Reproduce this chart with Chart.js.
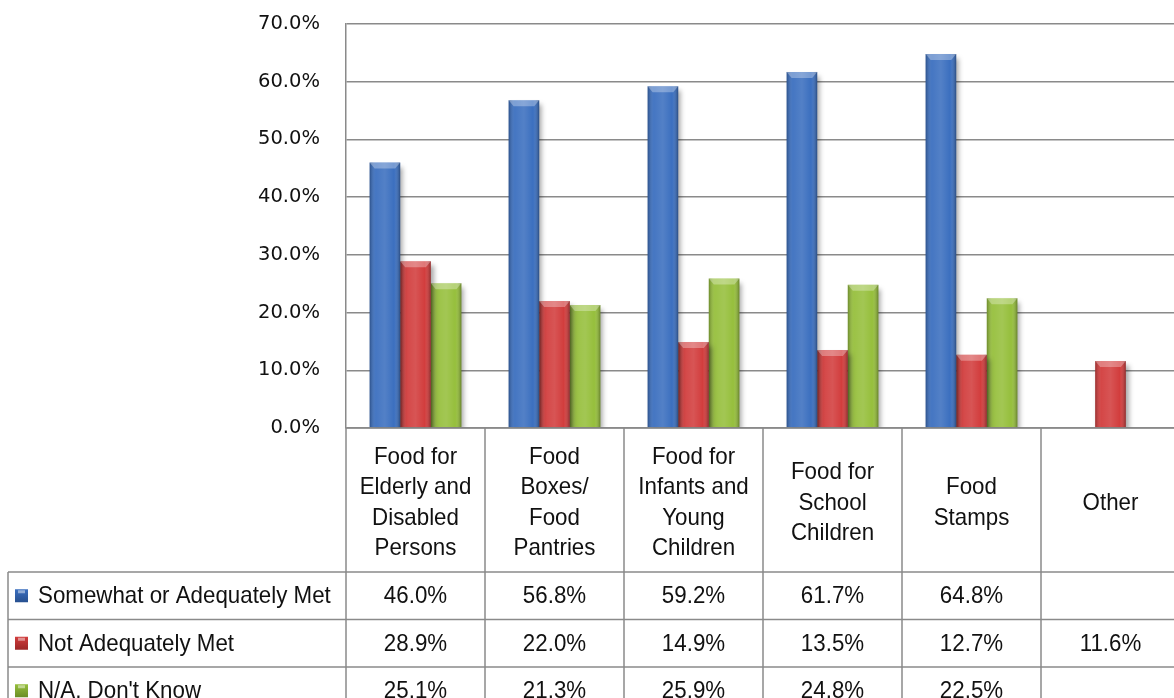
<!DOCTYPE html>
<html>
<head>
<meta charset="utf-8">
<script src="https://cdn.jsdelivr.net/npm/chart.js@4/dist/chart.umd.min.js"></script>
<style>
  html, body { margin: 0; padding: 0; background: #fff; overflow: hidden; }
  canvas { display: block; }
</style>
</head>
<body>
<canvas id="myChart" width="1180" height="698"></canvas>
<script>
var categories = [
    ['Food for', 'Elderly and', 'Disabled', 'Persons'],
    ['Food', 'Boxes/', 'Food', 'Pantries'],
    ['Food for', 'Infants and', 'Young', 'Children'],
    ['Food for', 'School', 'Children'],
    ['Food', 'Stamps'],
    ['Other']
];
var seriesNames = ['Somewhat or Adequately Met', 'Not Adequately Met', "N/A, Don't Know"];
var somewhatMet = [46.0, 56.8, 59.2, 61.7, 64.8, null];
var notMet = [28.9, 22.0, 14.9, 13.5, 12.7, 11.6];
var dontKnow = [25.1, 21.3, 25.9, 24.8, 22.5, null];
var yTicks = [0, 10, 20, 30, 40, 50, 60, 70];

var colors = ['#3b6fbf', '#d23d3d', '#96bf3c'];
var edgeColors = ['#274f8f', '#9c2626', '#6a8d24'];
var lineGray = '#8a8a8a';
var tableFont = "24px 'Liberation Sans', Arial, sans-serif";
var squeeze = 0.93; // table font is a condensed face in the original

// draw text squeezed horizontally
function narrowText(ctx, t, x, y) {
    ctx.save();
    ctx.translate(x, y);
    ctx.scale(squeeze, 1);
    ctx.fillText(t, 0, 0);
    ctx.restore();
}

// soft drop shadow under the bars
var barShadow = {
    id: 'barShadow',
    beforeDatasetsDraw: function(chart) {
        var ctx = chart.ctx;
        ctx.save();
        ctx.shadowColor = 'rgba(0,0,0,0.35)';
        ctx.shadowBlur = 5;
        ctx.shadowOffsetX = 3;
        ctx.shadowOffsetY = 4;
    },
    afterDatasetsDraw: function(chart) {
        var ctx = chart.ctx;
        ctx.restore();
        // rounded 3d shading over each bar
        chart.data.datasets.forEach(function(ds, di) {
            chart.getDatasetMeta(di).data.forEach(function(bar, i) {
                if (ds.data[i] == null) return;
                var p = bar.getProps(['x', 'y', 'width', 'base'], true);
                var l = p.x - p.width / 2, r = p.x + p.width / 2;
                var g = ctx.createLinearGradient(l, 0, r, 0);
                g.addColorStop(0, 'rgba(0,0,0,0.28)');
                g.addColorStop(0.2, 'rgba(255,255,255,0.05)');
                g.addColorStop(0.5, 'rgba(255,255,255,0.12)');
                g.addColorStop(0.8, 'rgba(255,255,255,0.0)');
                g.addColorStop(1, 'rgba(0,0,0,0.32)');
                ctx.save();
                ctx.fillStyle = g;
                ctx.fillRect(l, p.y, p.width, p.base - p.y);
                // lighter top cap
                ctx.fillStyle = 'rgba(255,255,255,0.3)';
                ctx.beginPath();
                ctx.moveTo(l, p.y);
                ctx.lineTo(r, p.y);
                ctx.lineTo(r - 5, p.y + 6);
                ctx.lineTo(l + 5, p.y + 6);
                ctx.closePath();
                ctx.fill();
                ctx.restore();
            });
        });
    }
};

// data table under the plot
var dataTable = {
    id: 'dataTable',
    afterDraw: function(chart) {
        var ctx = chart.ctx;
        var area = chart.chartArea;
        var n = categories.length;
        var colW = area.width / n;
        var top = area.bottom;
        var headBottom = top + 144;
        var rowH = 47.5;
        var tableLeft = 8;
        var rows = [somewhatMet, notMet, dontKnow];

        ctx.save();
        ctx.strokeStyle = lineGray;
        ctx.lineWidth = 1.5;
        ctx.beginPath();
        ctx.moveTo(area.left, top);
        ctx.lineTo(area.right, top);
        for (var r = 0; r <= rows.length; r++) {
            var yy = headBottom + r * rowH;
            ctx.moveTo(tableLeft, yy);
            ctx.lineTo(area.right, yy);
        }
        ctx.moveTo(tableLeft, headBottom);
        ctx.lineTo(tableLeft, chart.height);
        for (var c = 0; c <= n; c++) {
            var xx = area.left + c * colW;
            ctx.moveTo(xx, top);
            ctx.lineTo(xx, chart.height);
        }
        ctx.stroke();

        ctx.fillStyle = '#111';
        ctx.font = tableFont;
        ctx.textAlign = 'center';
        ctx.textBaseline = 'middle';
        var lh = 30.5;
        categories.forEach(function(lines, i) {
            var cx = area.left + (i + 0.5) * colW;
            var cy = (top + headBottom) / 2 + 3;
            var y0 = cy - (lines.length - 1) * lh / 2;
            lines.forEach(function(t, k) { narrowText(ctx, t, cx, y0 + k * lh); });
        });

        rows.forEach(function(vals, ri) {
            var cy = headBottom + (ri + 0.5) * rowH;
            // legend marker
            var mx = 15, ms = 13;
            var g = ctx.createLinearGradient(0, cy - ms / 2, 0, cy + ms / 2);
            g.addColorStop(0, colors[ri]);
            g.addColorStop(1, edgeColors[ri]);
            ctx.fillStyle = g;
            ctx.fillRect(mx, cy - ms / 2, ms, ms);
            ctx.fillStyle = 'rgba(255,255,255,0.45)';
            ctx.fillRect(mx + 3, cy - ms / 2 + 1, ms - 6, 3);
            ctx.fillStyle = '#111';
            ctx.textAlign = 'left';
            narrowText(ctx, seriesNames[ri], 38, cy + 1);
            ctx.textAlign = 'center';
            vals.forEach(function(v, i) {
                if (v == null) return;
                narrowText(ctx, v.toFixed(1) + '%', area.left + (i + 0.5) * colW, cy + 1);
            });
        });
        ctx.restore();
    }
};

var ctx = document.getElementById('myChart').getContext('2d');
var myChart = new Chart(ctx, {
    type: 'bar',
    data: {
        labels: categories,
        datasets: [{
            label: seriesNames[0],
            data: somewhatMet,
            backgroundColor: colors[0],
        }, {
            label: seriesNames[1],
            data: notMet,
            backgroundColor: colors[1],
        }, {
            label: seriesNames[2],
            data: dontKnow,
            backgroundColor: colors[2],
        }]
    },
    plugins: [barShadow, dataTable],
    options: {
        responsive: false,
        animation: false,
        layout: { padding: { top: 24, bottom: 270, left: 0, right: 0 } },
        categoryPercentage: 0.66,
        barPercentage: 1.0,
        plugins: {
            legend: { display: false },
            tooltip: { enabled: false }
        },
        scales: {
            x: { display: false },
            y: {
                min: 0,
                max: 70,
                afterFit: function(scale) {
                    scale.width = 346;
                    scale.paddingTop = 0;
                    scale.paddingBottom = 0;
                },
                afterBuildTicks: function(scale) {
                    scale.ticks = yTicks.map(function(v) { return { value: v }; });
                },
                ticks: {
                    padding: 26,
                    color: '#111',
                    font: { family: "'DejaVu Sans', Verdana, sans-serif", size: 19.5 },
                    callback: function(v) { return v.toFixed(1) + '%'; }
                },
                grid: { color: lineGray, lineWidth: 1.4, drawTicks: false },
                border: { color: lineGray, width: 1.5 }
            }
        }
    }
});
</script>
</body>
</html>
